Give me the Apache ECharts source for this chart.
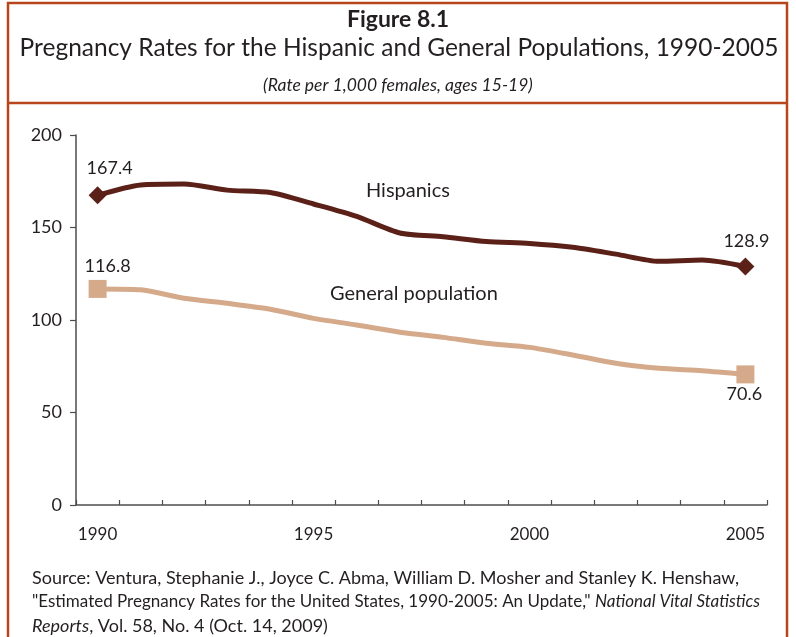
<!DOCTYPE html>
<html>
<head>
<meta charset="utf-8">
<script src="https://cdn.jsdelivr.net/npm/echarts@6/dist/echarts.min.js"></script>
<style>
html,body{margin:0;padding:0;background:#fff;}
#chart{width:796px;height:637px;}
</style>
</head>
<body>
<div id="chart"></div>
<script>
const years = ['1990','1991','1992','1993','1994','1995','1996','1997','1998','1999','2000','2001','2002','2003','2004','2005'];
const hispanics = [167.4, 173.0, 173.5, 170.2, 168.9, 162.7, 156.0, 147.0, 145.0, 142.4, 141.4, 139.3, 135.6, 131.7, 132.4, 128.9];
const generalPop = [116.8, 116.3, 111.8, 109.0, 105.8, 100.9, 97.3, 93.4, 90.6, 87.4, 85.2, 81.1, 76.6, 73.9, 72.6, 70.6];
const yTicks = [0, 50, 100, 150, 200];
const seriesNames = ['Hispanics', 'General population'];

const FONT = 'Lato';
const TXT = '#231f20';
const HCOL = '#5b2118';
const GCOL = '#d5aa8b';
const BORDER = '#b8461d';

function buildData(vals, symbol, size, color, firstLabel, lastLabel, nameIdx, name, nameOffset) {
  return vals.map(function (v, i) {
    const item = { value: v, symbolSize: 0 };
    const last = vals.length - 1;
    if (i === 0 || i === last) {
      item.symbol = symbol;
      item.symbolSize = size;
      item.itemStyle = { color: color };
      const cfg = i === 0 ? firstLabel : lastLabel;
      item.label = Object.assign({ show: true, formatter: String(v), fontSize: 18, color: TXT, fontFamily: FONT }, cfg);
    } else if (i === nameIdx) {
      item.label = { show: true, position: 'inside', offset: nameOffset, formatter: name, fontSize: 20, color: TXT, fontFamily: FONT };
    }
    return item;
  });
}

const chart = echarts.init(document.getElementById('chart'), null, { renderer: 'canvas' });
chart.setOption({
  animation: false,
  backgroundColor: '#fff',
  grid: { left: 76, right: 29, top: 135, bottom: 132, containLabel: false },
  xAxis: {
    type: 'category',
    data: years,
    boundaryGap: true,
    axisLine: { show: true, lineStyle: { color: '#4d4d4d', width: 1.5 } },
    axisTick: { show: true, inside: true, length: 5, interval: 0, lineStyle: { color: '#4d4d4d', width: 1.2 } },
    axisLabel: { interval: 4, margin: 21, fontSize: 17, color: TXT, fontFamily: FONT },
    splitLine: { show: false }
  },
  yAxis: {
    type: 'value',
    min: yTicks[0],
    max: yTicks[yTicks.length - 1],
    interval: yTicks[1] - yTicks[0],
    axisLine: { show: true, lineStyle: { color: '#4d4d4d', width: 1.5 } },
    axisTick: { show: true, inside: false, length: 6, lineStyle: { color: '#4d4d4d', width: 1.2 } },
    axisLabel: { margin: 14, fontSize: 18, color: TXT, fontFamily: FONT },
    splitLine: { show: false }
  },
  series: [
    {
      name: seriesNames[0],
      type: 'line',
      silent: true,
      smooth: 0.25,
      showAllSymbol: true,
      lineStyle: { color: HCOL, width: 5 },
      itemStyle: { color: HCOL },
      z: 3,
      data: buildData(hispanics, 'diamond', 18, HCOL,
        { position: 'top', distance: 9, offset: [12, 0] },
        { position: 'top', distance: 7, offset: [1, 0] },
        7, seriesNames[0], [8, -43])
    },
    {
      name: seriesNames[1],
      type: 'line',
      silent: true,
      smooth: 0.25,
      showAllSymbol: true,
      lineStyle: { color: GCOL, width: 5 },
      itemStyle: { color: GCOL },
      z: 2,
      data: buildData(generalPop, 'rect', 18, GCOL,
        { position: 'top', distance: 5, offset: [10, 0] },
        { position: 'bottom', distance: 2, offset: [-1, 0] },
        7, seriesNames[1], [14, -39])
    }
  ],
  graphic: [
    { type: 'rect', silent: true, z: 100, shape: { x: 8, y: 3, width: 779, height: 700 }, style: { fill: 'none', stroke: BORDER, lineWidth: 2.5 } },
    { type: 'line', silent: true, z: 100, shape: { x1: 8, y1: 103, x2: 787, y2: 103 }, style: { stroke: BORDER, lineWidth: 2.5 } },
    { type: 'text', silent: true, z: 100, x: 398, y: 20, style: { text: 'Figure 8.1', font: 'bold 23px Lato', fill: TXT, align: 'center', verticalAlign: 'middle' } },
    { type: 'text', silent: true, z: 100, x: 399, y: 48, style: { text: 'Pregnancy Rates for the Hispanic and General Populations, 1990-2005', font: '24.5px Lato', fill: TXT, align: 'center', verticalAlign: 'middle' } },
    { type: 'text', silent: true, z: 100, x: 398, y: 85, style: { text: '(Rate per 1,000 females, ages 15-19)', font: 'italic 17.5px Lato', fill: TXT, align: 'center', verticalAlign: 'middle' } },
    { type: 'text', silent: true, z: 100, x: 32, y: 578, style: {
        text: 'Source: Ventura, Stephanie J., Joyce C. Abma, William D. Mosher and Stanley K. Henshaw,',
        font: '18px Lato', fill: TXT, verticalAlign: 'middle' } },
    { type: 'text', silent: true, z: 100, x: 32, y: 602, style: {
        text: '"Estimated Pregnancy Rates for the United States, 1990-2005: An Update," {i|National Vital Statistics}',
        font: '17px Lato', fill: TXT, verticalAlign: 'middle',
        rich: { i: { fontStyle: 'italic', fontSize: 17, fontFamily: FONT, fill: TXT } } } },
    { type: 'text', silent: true, z: 100, x: 32, y: 626, style: {
        text: '{i|Reports}, Vol. 58, No. 4 (Oct. 14, 2009)',
        font: '18px Lato', fill: TXT, verticalAlign: 'middle',
        rich: { i: { fontStyle: 'italic', fontSize: 18, fontFamily: FONT, fill: TXT } } } }
  ]
});
</script>
</body>
</html>
